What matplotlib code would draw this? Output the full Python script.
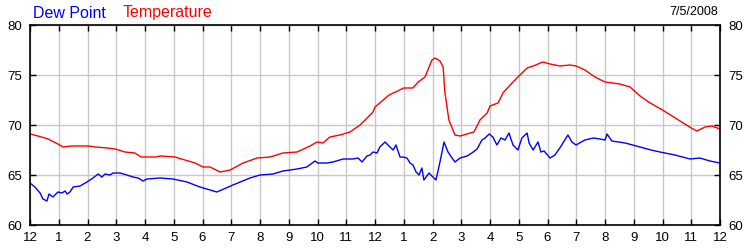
import numpy as np
import matplotlib
matplotlib.use("Agg")
import matplotlib.pyplot as plt

plt.rcParams['font.family'] = ['Liberation Sans', 'DejaVu Sans']

# hours since midnight, values in deg F
temp_hours = [0, 0.28, 0.63, 0.97, 1.15, 1.43, 2.02, 2.26, 2.71, 2.96, 3.3, 3.65, 3.86,
              4.35, 4.56, 5.04, 5.39, 5.74, 6.02, 6.26, 6.61, 6.96, 7.41, 7.9, 8.35, 8.8,
              9.29, 9.74, 9.98, 10.19, 10.43, 10.78, 11.13, 11.48, 11.76, 11.93, 12.0,
              12.49, 13.0, 13.32, 13.5, 13.74, 13.98, 14.09, 14.26, 14.37, 14.43, 14.57,
              14.78, 14.96, 15.2, 15.44, 15.65, 15.9, 16.0, 16.28, 16.45, 16.7, 16.97,
              17.29, 17.5, 17.84, 18.09, 18.43, 18.78, 19.0, 19.3, 19.65, 20.0, 20.52,
              20.87, 21.22, 21.57, 22.0, 22.5, 23.0, 23.2, 23.48, 23.72, 24.0]
temp_vals = [69.1, 68.9, 68.6, 68.1, 67.8, 67.9, 67.9, 67.8, 67.7, 67.6, 67.3, 67.2, 66.8,
             66.8, 66.9, 66.8, 66.5, 66.2, 65.8, 65.8, 65.3, 65.5, 66.2, 66.7, 66.8, 67.2,
             67.3, 67.9, 68.3, 68.2, 68.8, 69.0, 69.3, 70.0, 70.8, 71.3, 71.8,
             73.0, 73.7, 73.7, 74.3, 74.8, 76.5, 76.7, 76.4, 75.8, 73.3, 70.5,
             69.0, 68.9, 69.1, 69.3, 70.5, 71.2, 71.9, 72.2, 73.2, 74.0, 74.8,
             75.7, 75.9, 76.3, 76.1, 75.9, 76.0, 75.9, 75.5, 74.8, 74.3, 74.1,
             73.8, 72.9, 72.2, 71.5, 70.6, 69.7, 69.4, 69.8, 69.9, 69.6]

dew_hours = [0, 0.17, 0.35, 0.45, 0.59, 0.66, 0.8, 0.97, 1.11, 1.22, 1.29, 1.39, 1.5, 1.74,
             1.98, 2.19, 2.37, 2.5, 2.61, 2.78, 2.89, 3.13, 3.37, 3.58, 3.76, 3.93, 4.07,
             4.52, 4.97, 5.46, 5.91, 6.5, 7.06, 7.65, 8.0, 8.45, 8.8, 9.29, 9.63, 9.91,
             10.02, 10.33, 10.54, 10.89, 11.23, 11.41, 11.55, 11.72, 11.83, 11.93, 12.07,
             12.17, 12.35, 12.52, 12.63, 12.73, 12.87, 12.97, 13.11, 13.22, 13.32, 13.43,
             13.53, 13.63, 13.7, 13.88, 13.98, 14.12, 14.26, 14.4, 14.54, 14.68, 14.78,
             14.96, 15.2, 15.37, 15.55, 15.72, 15.83, 15.97, 16.1, 16.24, 16.38, 16.52,
             16.66, 16.8, 16.97, 17.11, 17.29, 17.36, 17.5, 17.67, 17.77, 17.88, 18.09,
             18.26, 18.45, 18.71, 18.85, 18.99, 19.3, 19.6, 19.83, 20.0, 20.07, 20.24,
             20.7, 21.22, 21.6, 21.91, 22.43, 22.96, 23.3, 23.65, 24.0]
dew_vals = [64.2, 63.8, 63.2, 62.6, 62.4, 63.1, 62.8, 63.3, 63.2, 63.4, 63.1, 63.3, 63.8, 63.9,
            64.3, 64.7, 65.1, 64.8, 65.1, 65.0, 65.2, 65.2, 65.0, 64.8, 64.7, 64.4, 64.6,
            64.7, 64.6, 64.3, 63.8, 63.3, 64.0, 64.7, 65.0, 65.1, 65.4, 65.6, 65.8, 66.4,
            66.2, 66.2, 66.3, 66.6, 66.6, 66.7, 66.3, 66.9, 67.0, 67.3, 67.2,
            67.8, 68.3, 67.8, 67.5, 68.0, 66.8, 66.8, 66.7, 66.2, 66.0, 65.3,
            65.0, 65.7, 64.5, 65.2, 64.9, 64.5, 66.3, 68.3, 67.3, 66.7, 66.3,
            66.7, 66.9, 67.2, 67.6, 68.5, 68.7, 69.1, 68.8, 68.0, 68.7, 68.5,
            69.2, 68.0, 67.5, 68.7, 69.2, 68.2, 67.5, 68.3, 67.3, 67.4, 66.7,
            67.0, 67.8, 69.0, 68.3, 68.0, 68.5, 68.7, 68.6, 68.5, 69.1, 68.4,
            68.2, 67.8, 67.5, 67.3, 67.0, 66.6, 66.7, 66.4, 66.2]

hour_labels = ['12'] + [str(h) for h in range(1, 12)] + ['12'] + [str(h) for h in range(1, 12)] + ['12']
date_text = "7/5/2008"

fig = plt.figure(figsize=(7.5, 2.5), dpi=100)
ax = fig.add_axes([0.04, 0.1, 0.92, 0.8])

ax.plot(dew_hours, dew_vals, color='#0000ff', lw=1.0)
ax.plot(temp_hours, temp_vals, color='#ff0000', lw=1.0)

ax.set_xlim(0, 24)
ax.set_ylim(60, 80)
ax.set_xticks(np.arange(0, 25))
ax.set_xticklabels(hour_labels)
ax.set_yticks([60, 65, 70, 75, 80])
ax.grid(True, color='#c8c8c8', lw=1.0)
ax.set_axisbelow(True)
ax.tick_params(axis='both', direction='in', length=4, width=1, labelsize=9.5,
               top=True, right=True, labelright=True, color='black')
ax.tick_params(axis='x', pad=5)
ax.tick_params(axis='y', pad=6)
for s in ax.spines.values():
    s.set_linewidth(1.2)
    s.set_color('black')

fig.text(33 / 750, 1 - 13 / 250, "Dew Point", color='#0000ff', fontsize=11.5, va='center', ha='left')
fig.text(123 / 750, 1 - 13 / 250, "Temperature", color='#ff0000', fontsize=11.5, va='center', ha='left')
fig.text(718 / 750, 1 - 12 / 250, date_text, color='black', fontsize=9, va='center', ha='right')

fig.savefig("out.png", dpi=100)
